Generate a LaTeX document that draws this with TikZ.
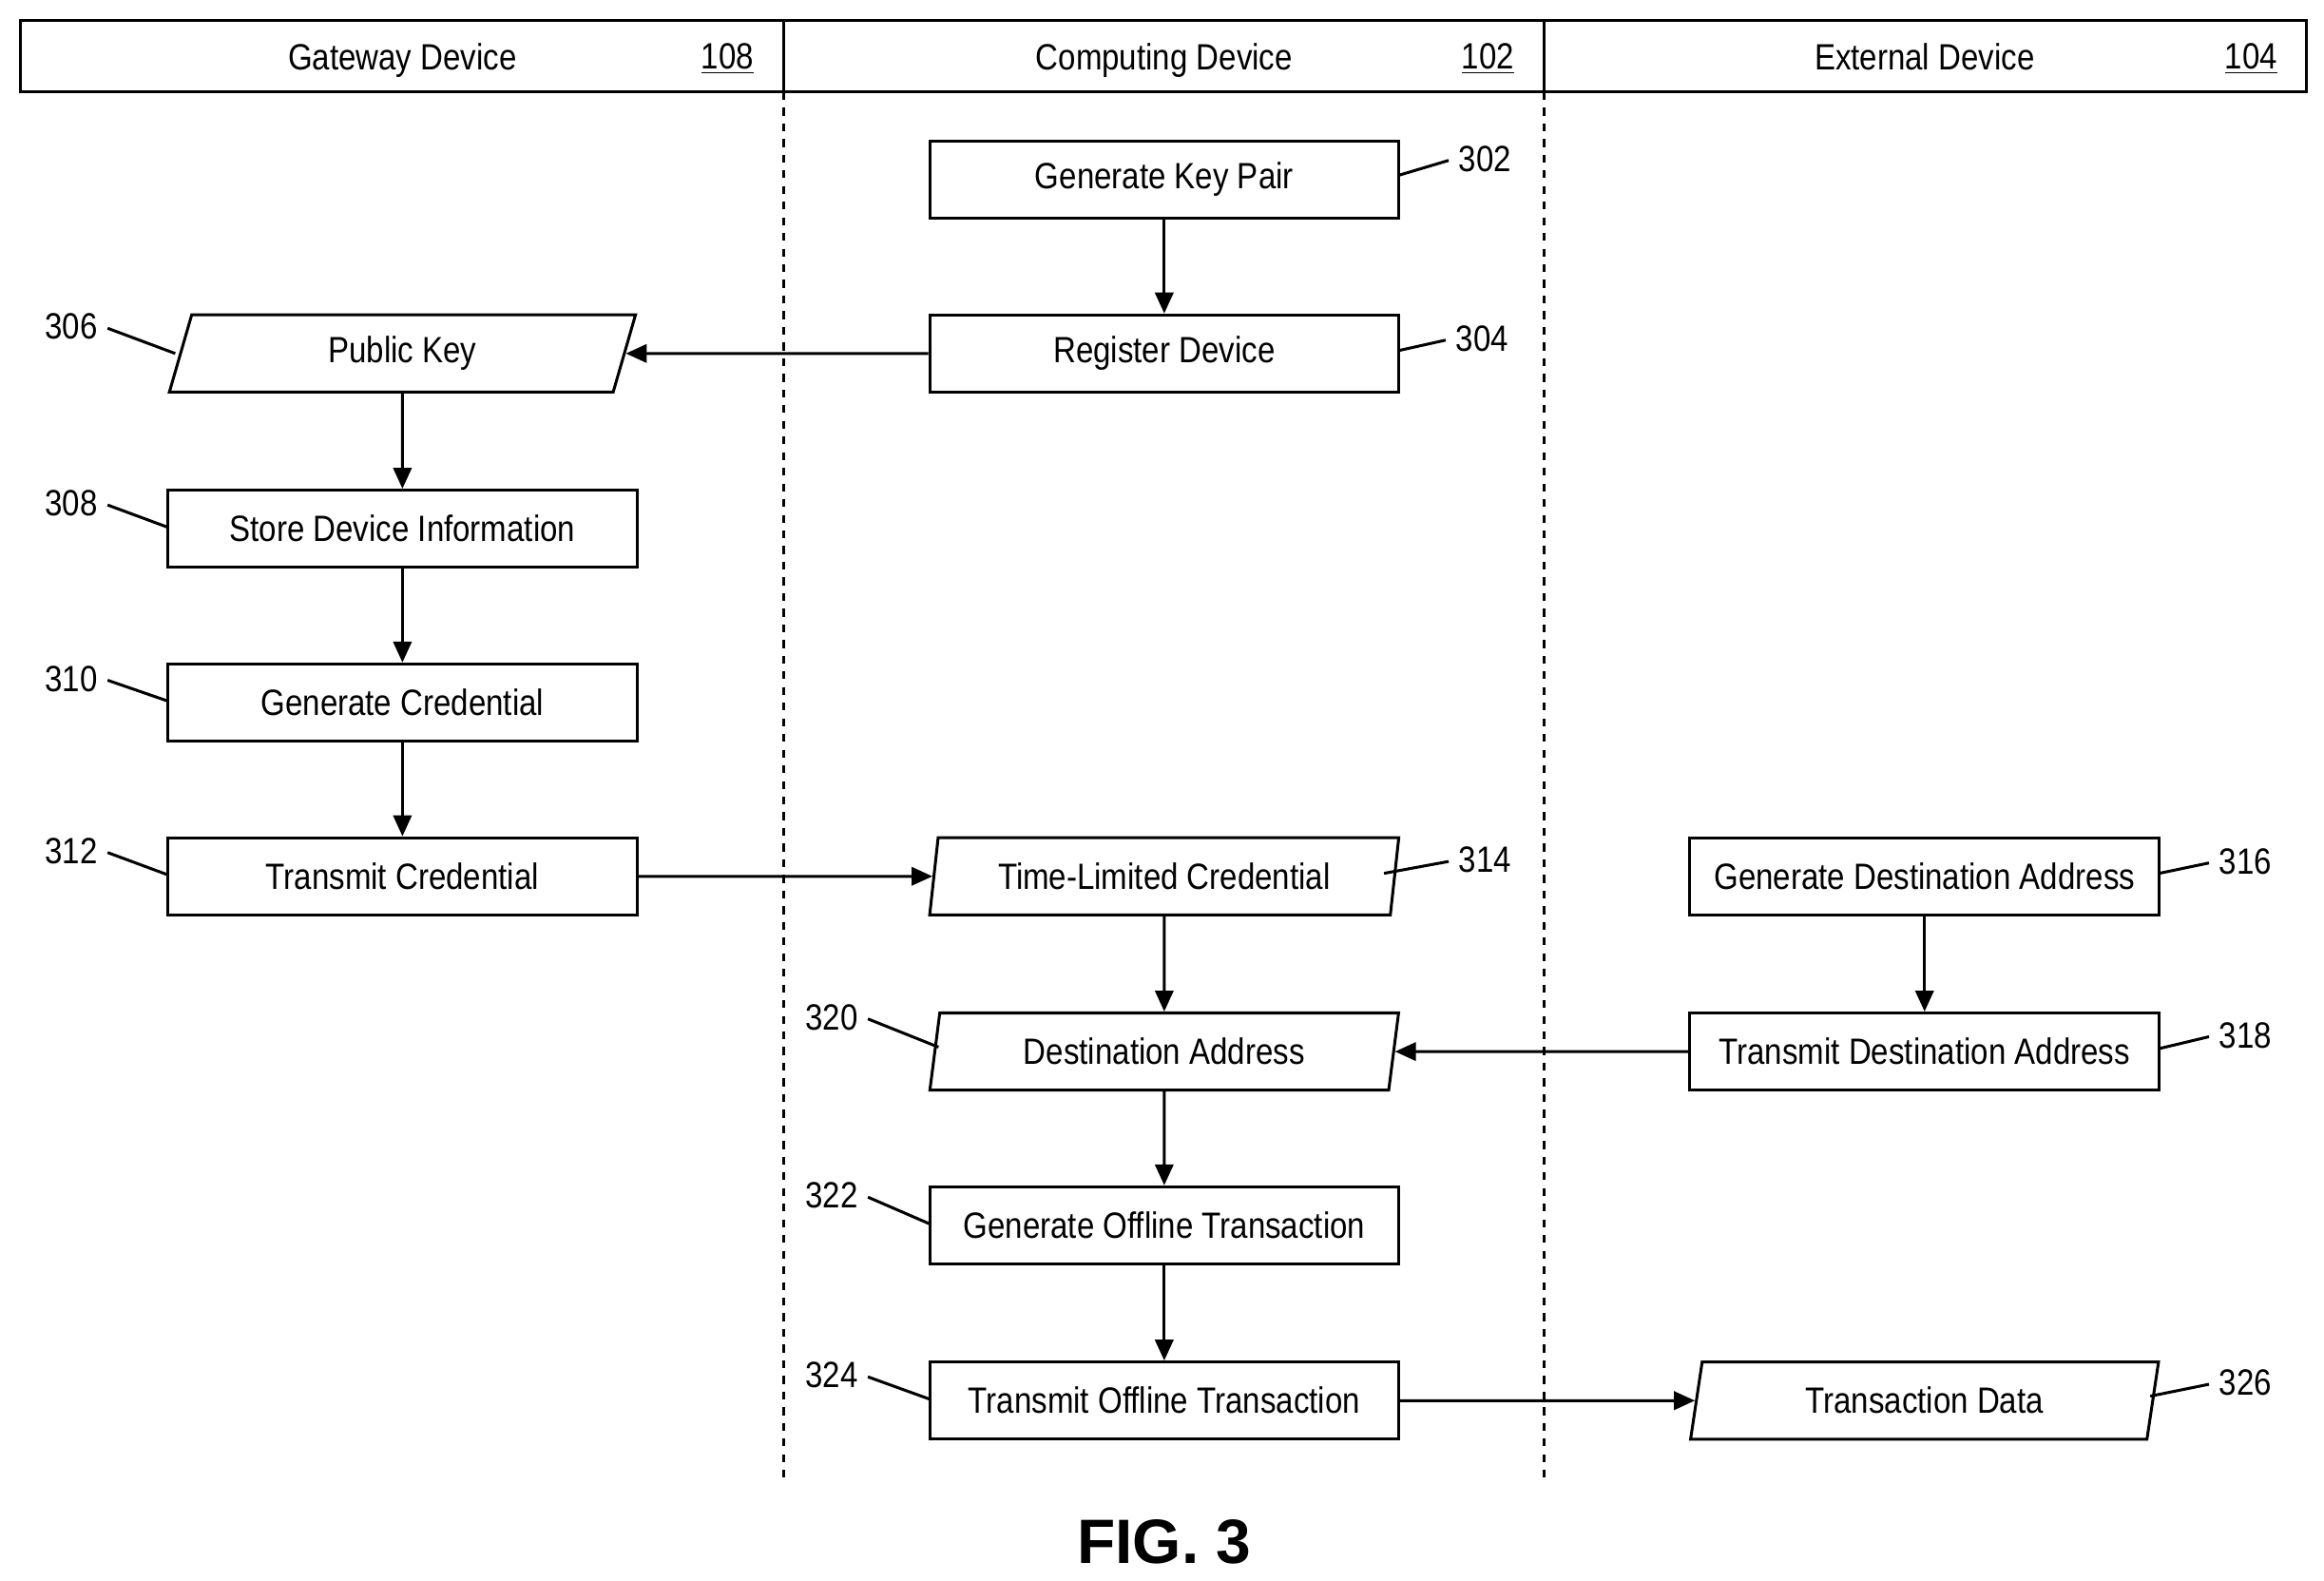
\documentclass[tikz,border=0pt]{standalone}
\usepackage{fontspec}
\setmainfont{Liberation Sans}[FakeStretch=0.86]
\newfontfamily\figfont{Liberation Sans}
\usetikzlibrary{shapes.geometric,arrows.meta}

\begin{document}
\begin{tikzpicture}[x=0.02cm,y=-0.02cm,line width=1.1pt,
    box/.style={draw,minimum width=6.32cm,minimum height=1.04cm,inner sep=0pt,font=\fontsize{14}{16}\selectfont},
    data/.style={box,trapezium,trapezium left angle=77,trapezium right angle=103,trapezium stretches=true},
    num/.style={font=\fontsize{14}{16}\selectfont,text depth=0.25ex},
    arr/.style={-{Triangle[length=8pt,width=7pt]}}]
  \useasboundingbox (0,0) rectangle (1565,1064);

  % swim lanes
  \draw (14,14) rectangle (1553,62);
  \draw (528,14) -- (528,62);
  \draw (1040,14) -- (1040,62);
  \draw[dashed] (528,62) -- (528,1000);
  \draw[dashed] (1040,62) -- (1040,1000);
  \node[num] at (271,39) {Gateway Device};
  \node[num] at (490,39) {\underline{108}};
  \node[num] at (784,39) {Computing Device};
  \node[num] at (1002,39) {\underline{102}};
  \node[num] at (1296,39) {External Device};
  \node[num] at (1516,39) {\underline{104}};

  % steps
  \node[box] (keypair) at (784,121) {Generate Key Pair};
  \node[box] (register) at (784,238) {Register Device};
  \node[data] (pubkey) at (271,238) {Public Key};
  \node[box] (store) at (271,356) {Store Device Information};
  \node[box] (gencred) at (271,473) {Generate Credential};
  \node[box] (txcred) at (271,590) {Transmit Credential};
  \node[data] (tlcred) at (784,590) {Time-Limited Credential};
  \node[box] (gendest) at (1296,590) {Generate Destination Address};
  \node[data] (dest) at (784,708) {Destination Address};
  \node[box] (txdest) at (1296,708) {Transmit Destination Address};
  \node[box] (genoff) at (784,825) {Generate Offline Transaction};
  \node[box] (txoff) at (784,943) {Transmit Offline Transaction};
  \node[data] (txdata) at (1296,943) {Transaction Data};

  \draw[arr] (keypair) -- (register);
  \draw[arr] (register) -- (pubkey);
  \draw[arr] (pubkey) -- (store);
  \draw[arr] (store) -- (gencred);
  \draw[arr] (gencred) -- (txcred);
  \draw[arr] (txcred) -- (tlcred);
  \draw[arr] (tlcred) -- (dest);
  \draw[arr] (gendest) -- (txdest);
  \draw[arr] (txdest) -- (dest);
  \draw[arr] (dest) -- (genoff);
  \draw[arr] (genoff) -- (txoff);
  \draw[arr] (txoff) -- (txdata);

  % reference numbers
  \node[num] (n302) at (1000,108) {302};
  \node[num] (n304) at (998,229) {304};
  \node[num] (n306) at (48,221) {306};
  \node[num] (n308) at (48,340) {308};
  \node[num] (n310) at (48,458) {310};
  \node[num] (n312) at (48,574) {312};
  \node[num] (n314) at (1000,580) {314};
  \node[num] (n316) at (1512,581) {316};
  \node[num] (n318) at (1512,698) {318};
  \node[num] (n320) at (560,686) {320};
  \node[num] (n322) at (560,806) {322};
  \node[num] (n324) at (560,927) {324};
  \node[num] (n326) at (1512,932) {326};
  \draw (n302.west) -- (942,118);
  \draw (n304.west) -- (942,236);
  \draw (n306.east) -- (118,238);
  \draw (n308.east) -- (113,355);
  \draw (n310.east) -- (113,472);
  \draw (n312.east) -- (113,589);
  \draw (n314.west) -- (932,588);
  \draw (n316.west) -- (1454,588);
  \draw (n318.west) -- (1454,706);
  \draw (n320.east) -- (632,705);
  \draw (n322.east) -- (626,824);
  \draw (n324.east) -- (626,942);
  \draw (n326.west) -- (1448,940);

  \node[font=\figfont\fontsize{24}{28}\selectfont\bfseries] (fig) at (784,1038) {FIG. 3};
\end{tikzpicture}
\end{document}
